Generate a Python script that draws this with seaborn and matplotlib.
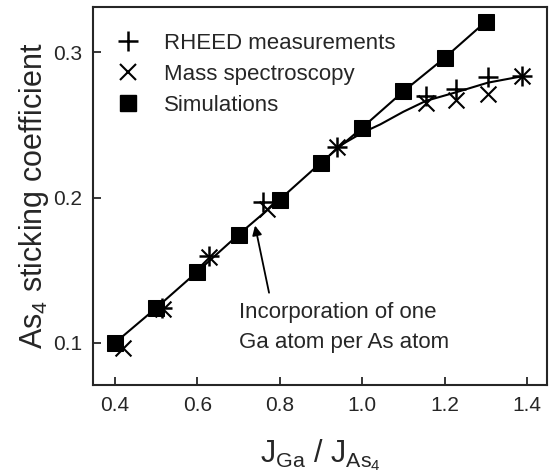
import numpy as np
import pandas as pd
import matplotlib
matplotlib.use("Agg")
import matplotlib.pyplot as plt
import seaborn as sns
from matplotlib.lines import Line2D

# Simulations (filled squares)
sim_x = [0.40, 0.50, 0.60, 0.70, 0.80, 0.90, 1.00, 1.10, 1.20, 1.30]
sim_y = [0.100, 0.124, 0.149, 0.1745, 0.1986, 0.224, 0.248, 0.273, 0.296, 0.321]

# RHEED measurements (+)
rheed_x = [0.515, 0.628, 0.759, 0.939, 1.155, 1.228, 1.305, 1.388]
rheed_y = [0.124, 0.160, 0.1966, 0.2345, 0.270, 0.2745, 0.283, 0.2835]

# Mass spectroscopy (x)
mass_x = [0.419, 0.517, 0.628, 0.769, 0.939, 1.155, 1.228, 1.305, 1.388]
mass_y = [0.0966, 0.123, 0.159, 0.192, 0.2345, 0.2648, 0.267, 0.271, 0.2835]

# fitted curve through measurements above J ratio ~0.94
fit_x = [0.939, 1.00, 1.044, 1.10, 1.155, 1.228, 1.305, 1.388]
fit_y = [0.2345, 0.2445, 0.2503, 0.2590, 0.2665, 0.2724, 0.2790, 0.2834]

sns.set_style("ticks")
plt.rcParams['font.family'] = ['Liberation Sans', 'DejaVu Sans']
plt.rcParams['mathtext.fontset'] = 'custom'
plt.rcParams['mathtext.rm'] = 'Liberation Sans'
plt.rcParams['mathtext.it'] = 'Liberation Sans'

fig = plt.figure(figsize=(5.51, 4.73), dpi=100)
ax = fig.add_axes([0.169, 0.186, 0.824, 0.799])

sns.lineplot(x=fit_x, y=fit_y, ax=ax, color='black', lw=1.5, sort=False)
sns.lineplot(x=sim_x, y=sim_y, ax=ax, color='black', lw=1.5, marker='s',
             markersize=12, markeredgecolor='black', legend=False)
ax.scatter(rheed_x, rheed_y, marker='+', s=200, color='black', linewidths=1.8, zorder=3)
ax.scatter(mass_x, mass_y, marker='x', s=130, color='black', linewidths=1.5, zorder=3)

# legend with proxy handles
handles = [
    Line2D([], [], ls='none', marker='+', color='black', markersize=14, markeredgewidth=1.8),
    Line2D([], [], ls='none', marker='x', color='black', markersize=11, markeredgewidth=1.5),
    Line2D([], [], ls='none', marker='s', color='black', markersize=12),
]
ax.legend(handles, ['RHEED measurements', 'Mass spectroscopy', 'Simulations'],
          loc='upper left', bbox_to_anchor=(0.041, 0.932), frameon=False, fontsize=16,
          handletextpad=0.84, labelspacing=0.45, borderaxespad=0, borderpad=0,
          handlelength=1.5)

# annotation
ax.annotate('', xy=(0.740, 0.1807), xytext=(0.774, 0.1345),
            arrowprops=dict(arrowstyle='-|>', color='black', lw=1.3, shrinkA=0, shrinkB=0,
                            mutation_scale=14))
ax.text(0.701, 0.1105, 'Incorporation of one\nGa atom per As atom', fontsize=16,
        ha='left', va='center', linespacing=1.6)

ax.set_xlim(0.347, 1.449)
ax.set_ylim(0.071, 0.331)
ax.set_xticks([0.4, 0.6, 0.8, 1.0, 1.2, 1.4])
ax.set_yticks([0.1, 0.2, 0.3])
ax.tick_params(direction='in', length=6, width=1.3, labelsize=15, pad=8)
for s in ax.spines.values():
    s.set_linewidth(1.5)
    s.set_visible(True)

ax.set_xlabel(r'J$_{\mathrm{Ga}}$ / J$_{\mathrm{As}_4}$', fontsize=22, labelpad=16)
ax.set_ylabel(r'As$_4$ sticking coefficient', fontsize=22, labelpad=1)

fig.savefig('out.png', dpi=100)
